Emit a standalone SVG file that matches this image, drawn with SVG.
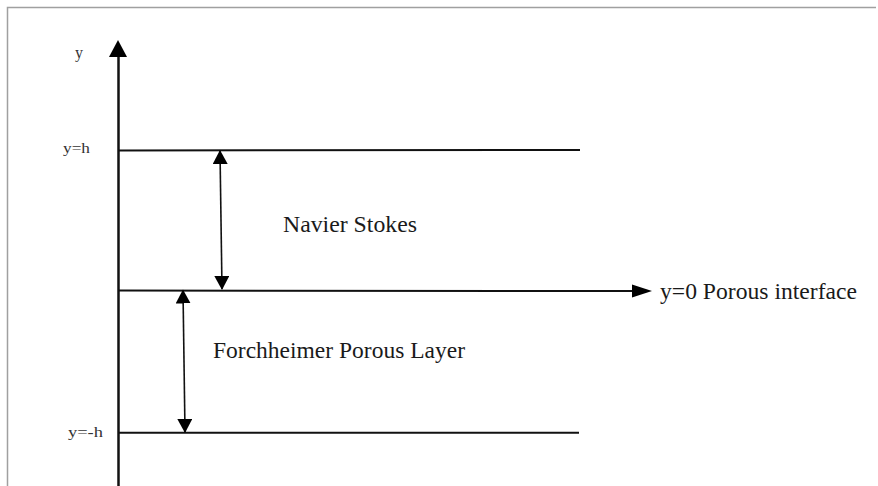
<svg xmlns="http://www.w3.org/2000/svg" width="878" height="486" viewBox="0 0 878 486">
  <style>
    .ln { stroke: #111; fill: none; }
    .lbl { font-family: "Liberation Serif", "Times New Roman", serif; fill: #333; }
    .big { font-family: "Liberation Serif", "Times New Roman", serif; fill: #1a1a1a; font-size: 23.5px; }
  </style>
  <defs>
    <marker id="ah" viewBox="0 0 14 15" refX="13" refY="7.5" markerWidth="14" markerHeight="15" markerUnits="userSpaceOnUse" orient="auto-start-reverse">
      <path d="M0,0 L14,7.5 L0,15 z" fill="#000"/>
    </marker>
  </defs>
  <rect width="878" height="486" fill="#fff"/>
  <path d="M7.5,486 V7.5 H876" stroke="#a0a0a0" stroke-width="1.5" fill="none"/>

  <g id="connectors">
    <line class="ln" x1="118.5" y1="486" x2="118.5" y2="55" stroke-width="2.5"/>
    <polygon points="118,40 109,57 127,57" fill="#000"/>
    <line class="ln" x1="119" y1="150.5" x2="580" y2="150" stroke-width="2"/>
    <line class="ln" x1="119" y1="290.5" x2="635" y2="291" stroke-width="2"/>
    <polygon points="652,291 632,284.5 632,297.5" fill="#000"/>
    <line class="ln" x1="119" y1="432.8" x2="579" y2="432.8" stroke-width="2"/>
    <line class="ln" x1="220" y1="151" x2="222" y2="289" stroke-width="1.6" marker-start="url(#ah)" marker-end="url(#ah)"/>
    <line class="ln" x1="183" y1="290.5" x2="185" y2="432" stroke-width="1.6" marker-start="url(#ah)" marker-end="url(#ah)"/>
  </g>

  <g id="label-y"><text class="lbl" x="75" y="58" font-size="16">y</text></g>
  <g id="label-yh"><text class="lbl" x="63" y="153" font-size="15" textLength="27" lengthAdjust="spacingAndGlyphs">y=h</text></g>
  <g id="label-ymh"><text class="lbl" x="68" y="437" font-size="15" textLength="35" lengthAdjust="spacingAndGlyphs">y=-h</text></g>
  <g id="navier-stokes"><text class="big" x="283" y="232" textLength="134" lengthAdjust="spacingAndGlyphs">Navier Stokes</text></g>
  <g id="porous-interface"><text class="big" x="660" y="299" textLength="197" lengthAdjust="spacingAndGlyphs">y=0 Porous interface</text></g>
  <g id="forchheimer"><text class="big" x="213" y="358" textLength="252" lengthAdjust="spacingAndGlyphs">Forchheimer Porous Layer</text></g>
</svg>
